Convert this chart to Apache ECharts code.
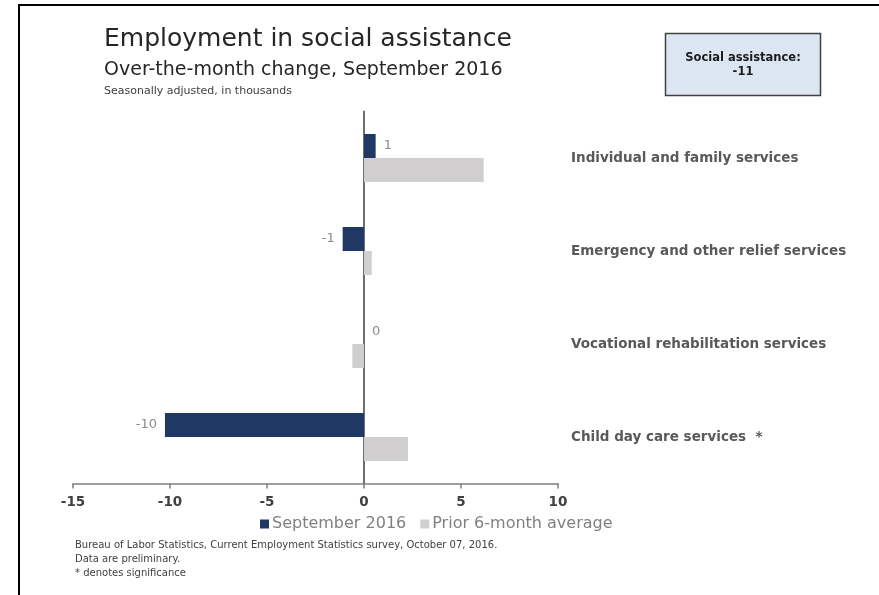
<!DOCTYPE html>
<html>
<head>
<meta charset="utf-8">
<script src="https://cdn.jsdelivr.net/npm/echarts@6/dist/echarts.min.js"></script>
<style>
html,body{margin:0;padding:0;background:#fff;}
#chart{width:879px;height:595px;}
</style>
</head>
<body>
<div id="chart"></div>
<script>
var categories = ['Individual and family services', 'Emergency and other relief services', 'Vocational rehabilitation services', 'Child day care services  *'];
var septemberValues = [0.6, -1.1, 0.0, -10.26];
var priorAverageValues = [6.17, 0.4, -0.6, 2.27];
var xTicks = [-15, -10, -5, 0, 5, 10];
var seriesNames = ['September 2016', 'Prior 6-month average'];
var titleText = 'Employment in social assistance';
var subtitleText = 'Over-the-month change, September 2016';
var noteText = 'Seasonally adjusted, in thousands';
var boxLines = ['Social assistance:', '-11'];
var footerLines = ['Bureau of Labor Statistics, Current Employment Statistics survey, October 07, 2016.', 'Data are preliminary.', '* denotes significance'];

var FONT = 'DejaVu Sans';
var chart = echarts.init(document.getElementById('chart'));

var sepData = septemberValues.map(function (v) {
  return { value: v, label: { position: v < 0 ? 'left' : 'right' } };
});

var graphics = [
  { type: 'rect', shape: { x: 19, y: 4, width: 860, height: 2 }, style: { fill: '#000' }, silent: true },
  { type: 'rect', shape: { x: 18, y: 4, width: 2, height: 591 }, style: { fill: '#000' }, silent: true },
  { type: 'text', x: 104, y: 39, style: { text: titleText, font: '25px ' + FONT, fill: '#262626', verticalAlign: 'middle' } },
  { type: 'text', x: 104, y: 70, style: { text: subtitleText, font: '19px ' + FONT, fill: '#262626', verticalAlign: 'middle' } },
  { type: 'text', x: 104, y: 91, style: { text: noteText, font: '11px ' + FONT, fill: '#404040', verticalAlign: 'middle' } },
  { type: 'rect', shape: { x: 665.5, y: 33.5, width: 155, height: 62 }, style: { fill: '#dce6f2', stroke: '#404040', lineWidth: 1.5 } },
  { type: 'text', x: 743, y: 58, style: { text: boxLines[0], font: 'bold 11.5px ' + FONT, fill: '#1a1a1a', align: 'center', verticalAlign: 'middle' } },
  { type: 'text', x: 743, y: 72, style: { text: boxLines[1], font: 'bold 11.5px ' + FONT, fill: '#1a1a1a', align: 'center', verticalAlign: 'middle' } }
];
footerLines.forEach(function (t, i) {
  graphics.push({ type: 'text', x: 75, y: 545 + i * 14, style: { text: t, font: '10px ' + FONT, fill: '#404040', verticalAlign: 'middle' } });
});

chart.setOption({
  animation: false,
  textStyle: { fontFamily: FONT },
  grid: { left: 73, right: 321, top: 111.5, bottom: 111.5, containLabel: false },
  legend: {
    data: seriesNames,
    left: 255, top: 511,
    itemWidth: 9, itemHeight: 9, itemGap: 14,
    icon: 'rect',
    textStyle: { fontSize: 16, color: '#808080', fontFamily: FONT, padding: [0, 0, 0, -2] }
  },
  xAxis: {
    type: 'value', min: -15, max: 10, interval: 5,
    axisLine: { show: true, onZero: false, lineStyle: { color: '#7f7f7f', width: 1.5 } },
    axisTick: { show: true, length: 5, lineStyle: { color: '#7f7f7f', width: 1.5 } },
    axisLabel: { fontSize: 13.5, fontWeight: 'bold', color: '#404040', margin: 12,
      formatter: function (v) { return xTicks.indexOf(v) >= 0 ? String(v) : ''; } },
    splitLine: { show: false }
  },
  yAxis: [
    {
      type: 'category', data: categories, inverse: true, position: 'left',
      axisLine: { show: true, onZero: true, lineStyle: { color: '#6f6f6f', width: 2 } },
      axisTick: { show: false }, axisLabel: { show: false }, splitLine: { show: false }
    },
    {
      type: 'category', data: categories, inverse: true, position: 'right',
      axisLine: { show: false }, axisTick: { show: false }, splitLine: { show: false },
      axisLabel: { margin: 13, fontSize: 13.5, fontWeight: 'bold', color: '#595959', align: 'left', fontFamily: FONT }
    }
  ],
  series: [
    {
      name: seriesNames[0], type: 'bar', yAxisIndex: 0, data: sepData,
      barWidth: 24, barGap: '0%',
      itemStyle: { color: '#1f3864' },
      label: { show: true, distance: 8, fontSize: 13, color: '#8c8c8c', fontFamily: FONT,
        formatter: function (p) { return String(Math.round(p.value)); } }
    },
    {
      name: seriesNames[1], type: 'bar', yAxisIndex: 0, data: priorAverageValues,
      barWidth: 24, barGap: '0%',
      itemStyle: { color: '#d0cece' }
    }
  ],
  graphic: graphics
});
</script>
</body>
</html>
